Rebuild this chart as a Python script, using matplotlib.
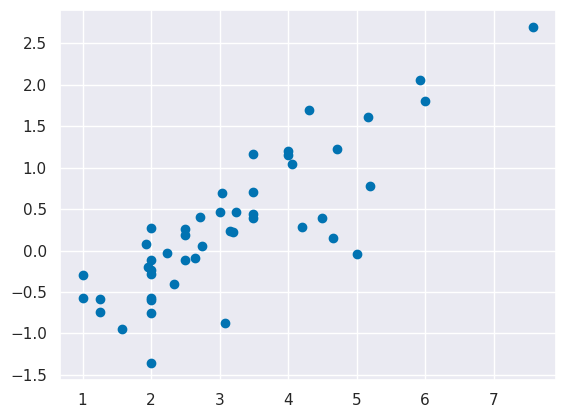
import matplotlib
matplotlib.use("Agg")
import matplotlib.pyplot as plt
import seaborn as sns

# values
x_vals = [1.0, 1.0, 1.25, 1.25, 1.57, 1.93, 1.96,
          2.0, 2.0, 2.0, 2.0, 2.0, 2.0, 2.0, 2.0,
          2.23, 2.33, 2.49, 2.49, 2.49, 2.64, 2.71, 2.74,
          3.0, 3.04, 3.08, 3.15, 3.2, 3.24,
          3.49, 3.49, 3.49, 3.49,
          4.0, 4.0, 4.06, 4.2, 4.3, 4.49, 4.66, 4.71,
          5.0, 5.16, 5.19, 5.92, 6.0, 7.58]
y_vals = [-0.30, -0.57, -0.58, -0.74, -0.95, 0.08, -0.20,
          0.27, -0.12, -0.24, -0.28, -0.57, -0.60, -0.75, -1.36,
          -0.03, -0.41, 0.26, 0.19, -0.11, -0.09, 0.41, 0.05,
          0.47, 0.69, -0.87, 0.23, 0.22, 0.46,
          1.16, 0.71, 0.44, 0.39,
          1.20, 1.15, 1.05, 0.28, 1.69, 0.39, 0.15, 1.22,
          -0.04, 1.61, 0.78, 2.06, 1.81, 2.70]

sns.set_theme(style="darkgrid", palette="colorblind")

fig = plt.figure(figsize=(5.66, 4.17), dpi=100)
ax = fig.add_axes([60 / 566, 1 - 380 / 417, 496 / 566, 370 / 417])
ax.scatter(x_vals, y_vals, color=sns.color_palette("colorblind")[0])

fig.savefig("out.png", dpi=100)
